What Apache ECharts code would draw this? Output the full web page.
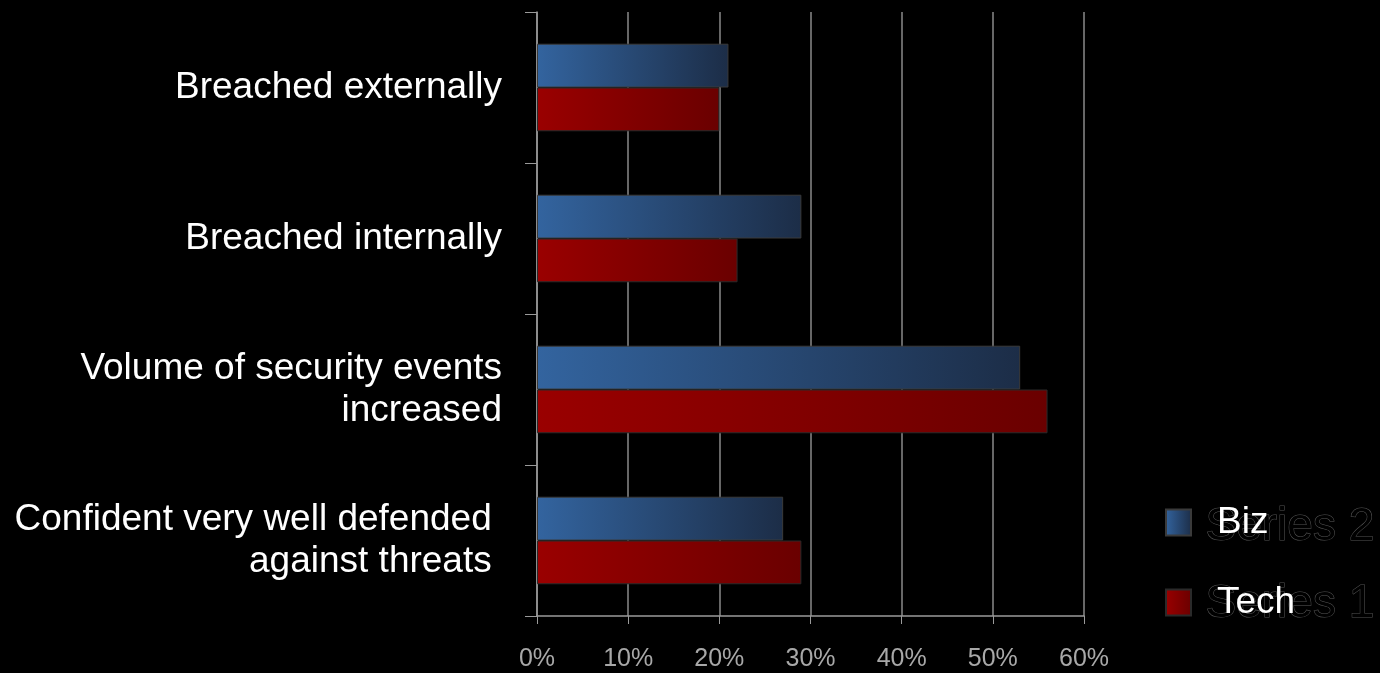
<!DOCTYPE html>
<html>
<head>
<meta charset="utf-8">
<script src="https://cdn.jsdelivr.net/npm/echarts@6/dist/echarts.min.js"></script>
<style>
html,body{margin:0;padding:0;background:#000;}
#chart{width:1380px;height:673px;}
</style>
</head>
<body>
<div id="chart"></div>
<script>
const categories = [
  "Breached externally",
  "Breached internally",
  "Volume of security events\nincreased",
  "Confident very well defended \nagainst threats "
];
const bizValues = [21, 29, 53, 27];
const techValues = [20, 22, 56, 29];
const xTicks = [0, 10, 20, 30, 40, 50, 60];
const legendNames = ["Biz", "Tech"];
const ghostLegendNames = ["Series 2", "Series 1"];

const chart = echarts.init(document.getElementById('chart'));
const font = '"Liberation Sans", Arial, sans-serif';

const blueGrad = new echarts.graphic.LinearGradient(0, 0, 1, 0, [
  {offset: 0, color: '#33649f'},
  {offset: 1, color: '#1c2d47'}
]);
const redGrad = new echarts.graphic.LinearGradient(0, 0, 1, 0, [
  {offset: 0, color: '#9a0000'},
  {offset: 1, color: '#6a0000'}
]);

chart.setOption({
  backgroundColor: '#000',
  textStyle: {fontFamily: font},
  grid: {left: 537, right: 296, top: 12, bottom: 57, containLabel: false},
  xAxis: {
    type: 'value',
    min: xTicks[0],
    max: xTicks[xTicks.length - 1],
    interval: 10,
    axisLine: {show: true, lineStyle: {color: '#9a9a9a', width: 1.5}},
    axisTick: {show: true, length: 8, lineStyle: {color: '#9a9a9a'}},
    splitLine: {show: true, lineStyle: {color: '#8a8a8a', width: 1.5}},
    axisLabel: {
      color: '#a8a8a8', fontSize: 25, margin: 31, fontFamily: font,
      formatter: v => v + '%'
    }
  },
  yAxis: {
    type: 'category',
    inverse: true,
    data: categories,
    axisLine: {show: true, lineStyle: {color: '#9a9a9a', width: 1.5}},
    axisTick: {show: true, inside: false, length: 12, alignWithLabel: false, lineStyle: {color: '#9a9a9a'}},
    splitLine: {show: false},
    axisLabel: {
      color: '#ffffff', fontSize: 37, margin: 35, lineHeight: 42, fontFamily: font, align: 'right',
      padding: [7, 0, 0, 0]
    }
  },
  legend: {
    orient: 'vertical',
    left: 1165,
    top: 504,
    padding: 0,
    z: 5,
    itemWidth: 25,
    itemHeight: 26,
    itemGap: 43,
    icon: 'rect',
    data: legendNames,
    textStyle: {color: '#ffffff', fontSize: 37, fontFamily: font, padding: [0, 0, 0, 21]}
  },
  graphic: [
    {
      type: 'text', left: 1205, top: 504, z: 1, silent: true,
      style: {text: ghostLegendNames[0], fontSize: 46, fontFamily: font, fill: '#000', stroke: '#555555', lineWidth: 1}
    },
    {
      type: 'text', left: 1205, top: 581, z: 1, silent: true,
      style: {text: ghostLegendNames[1], fontSize: 46, fontFamily: font, fill: '#000', stroke: '#555555', lineWidth: 1}
    }
  ],
  series: [
    {
      name: legendNames[0],
      type: 'bar',
      data: bizValues,
      barGap: '0%',
      barCategoryGap: '42%',
      itemStyle: {color: blueGrad, borderColor: '#3a3a3a', borderWidth: 1},
      z: 3
    },
    {
      name: legendNames[1],
      type: 'bar',
      data: techValues,
      barGap: '0%',
      barCategoryGap: '42%',
      itemStyle: {color: redGrad, borderColor: '#2a2a2a', borderWidth: 1},
      z: 3
    }
  ],
  animation: false
});
</script>
</body>
</html>
